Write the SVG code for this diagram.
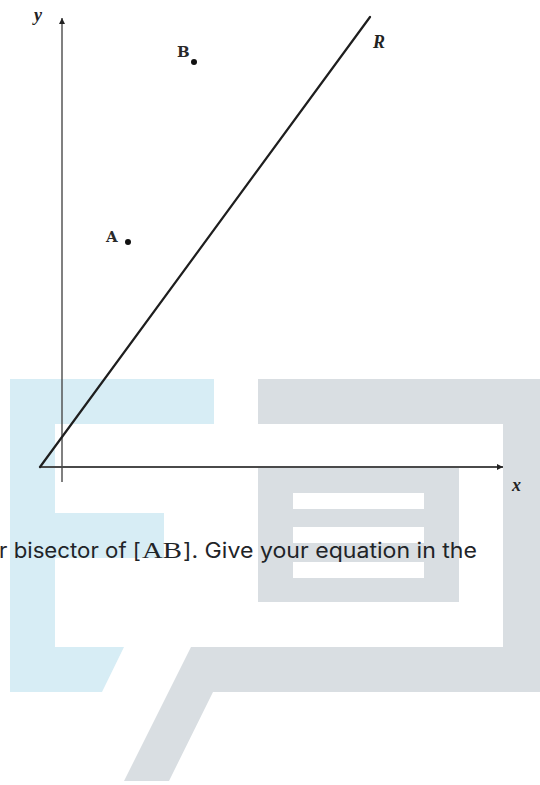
<svg xmlns="http://www.w3.org/2000/svg" width="540" height="785" viewBox="0 0 540 785">
<style>
.bg{fill:#ffffff}
.wm-blue{fill:#d7edf5}
.wm-grey{fill:#d9dee2}
.wm-white{fill:#ffffff}
.axis{stroke:#4a4a4a;fill:none}
.lineR{stroke:#1e1e1e;stroke-width:2.2;fill:none;stroke-linecap:round}
.lbl{font-family:"DejaVu Serif","Liberation Serif",serif;font-size:15px;font-weight:bold;fill:#2a2a2a}
.ital{font-family:"Liberation Serif","DejaVu Serif",serif;font-style:italic;font-weight:bold;font-size:18px;fill:#222}
.txt{font-family:Inter,"Liberation Sans",sans-serif;font-size:21px;fill:#1f2428}
.math{font-family:"Liberation Serif","DejaVu Serif",serif;font-size:24px;fill:#1f2428}
.dot{fill:#111}
</style>
<defs>
<marker id="arr" viewBox="0 0 10 10" refX="10" refY="5" markerWidth="8" markerHeight="6" markerUnits="userSpaceOnUse" orient="auto">
<path d="M0,0 L10,5 L0,10 Z" fill="#222"/>
</marker>
</defs>
<rect class="bg" x="0" y="0" width="540" height="785"/>
<g id="watermark">
<polygon class="wm-blue" points="10,379 214,379 214,424 55,424 55,647 124,647 102,692 10,692"/>
<rect class="wm-blue" x="55" y="513" width="109" height="45"/>
<polygon class="wm-grey" points="258,379 540,379 540,692 213,692 169,781 124,781 191,647 503,647 503,424 258,424"/>
<rect class="wm-grey" x="258" y="468" width="201" height="134"/>
<rect class="wm-white" x="293" y="493" width="131" height="16"/>
<rect class="wm-white" x="293" y="527" width="131" height="16"/>
<rect class="wm-white" x="293" y="562" width="131" height="16"/>
</g>
<g id="connectors">
<line class="axis" x1="62" y1="482" x2="62" y2="18" stroke-width="1.4" marker-end="url(#arr)"/>
<line class="axis" x1="40" y1="467" x2="503" y2="467" stroke-width="2" marker-end="url(#arr)"/>
<line class="lineR" x1="40" y1="467" x2="370" y2="17"/>
</g>
<g id="label-y"><text class="ital" x="34" y="21">y</text></g>
<g id="label-x"><text class="ital" x="512" y="491">x</text></g>
<g id="label-R"><text class="ital" x="373" y="48">R</text></g>
<g id="point-B">
<text class="lbl" x="177" y="57">B</text>
<circle class="dot" cx="194" cy="62" r="3"/>
</g>
<g id="point-A">
<text class="lbl" x="106" y="242">A</text>
<circle class="dot" cx="128" cy="242" r="3"/>
</g>
<g id="question">
<text class="txt" x="-1" y="558" textLength="142" lengthAdjust="spacingAndGlyphs">r bisector of [</text>
<text class="math" x="142" y="558" textLength="40" lengthAdjust="spacingAndGlyphs">AB</text>
<text class="txt" x="183" y="558" textLength="294" lengthAdjust="spacingAndGlyphs">]. Give your equation in the</text>
</g>
</svg>
